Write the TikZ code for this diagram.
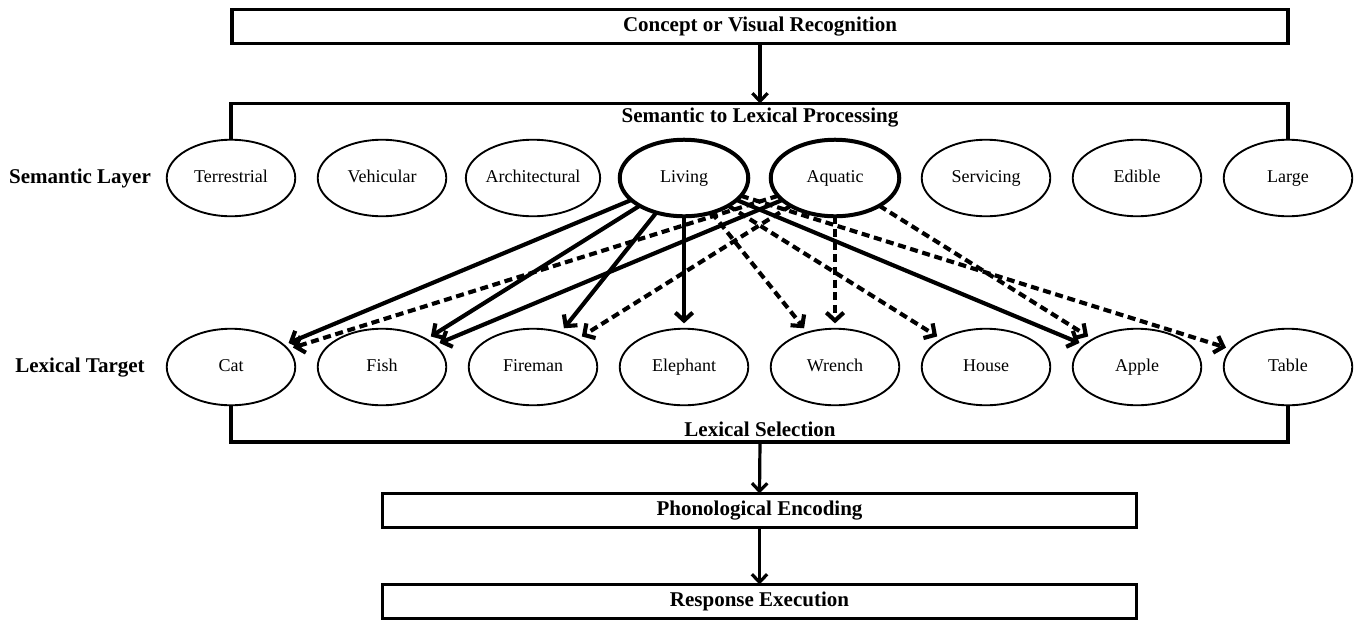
\documentclass[tikz,border=0pt]{standalone}
\usepackage{fontspec}
\setmainfont{Liberation Serif}
\usetikzlibrary{arrows.meta,shapes.geometric}
\begin{document}
\begin{tikzpicture}[x=0.75pt,y=-0.75pt,
  every node/.style={inner sep=0pt,outer sep=0pt},
  bigtext/.style={font=\fontsize{15.75pt}{18pt}\selectfont\bfseries,text height=11pt,text depth=3.5pt},
  proc/.style={draw,line width=2.5pt,minimum height=25.5pt,bigtext},
  concept/.style={draw,ellipse,line width=1.4pt,minimum width=96.4pt,minimum height=57.4pt,
    font=\fontsize{13.5pt}{16pt}\selectfont,text height=9pt,text depth=3pt},
  hot/.style={line width=3pt},
  boxline/.style={line width=2.5pt},
  flow/.style={line width=2.4pt,-{Straight Barb[length=6pt,width=11.5pt,line width=2.4pt]}},
  link/.style={line width=3.1pt,shorten >=4pt,-{Straight Barb[length=6pt,width=13pt,line width=3.1pt]}},
  weak/.style={link,dash pattern=on 6pt off 3.5pt}]
\useasboundingbox (0,0) rectangle (1356,622);
% process boxes
\node[proc,minimum width=792pt] (concept) at (760,26.5) {Concept or Visual Recognition};
\node[proc,minimum width=565.5pt] (phon) at (759.5,510.5) {Phonological Encoding};
\node[proc,minimum width=565.5pt] (resp) at (759.5,601.5) {Response Execution};
% side labels
\node[bigtext] (semlab) at (80,178) {Semantic Layer};
\node[bigtext] (lexlab) at (80,367) {Lexical Target};
% semantic layer
\node[concept] (terr) at (231,178) {Terrestrial};
\node[concept] (vehi) at (382,178) {Vehicular};
\node[concept] (arch) at (533,178) {Architectural};
\node[concept,hot] (living) at (684,178) {Living};
\node[concept,hot] (aqua) at (835,178) {Aquatic};
\node[concept] (serv) at (986,178) {Servicing};
\node[concept] (edib) at (1137,178) {Edible};
\node[concept] (large) at (1288,178) {Large};
% lexical targets
\node[concept] (cat) at (231,367) {Cat};
\node[concept] (fish) at (382,367) {Fish};
\node[concept] (fire) at (533,367) {Fireman};
\node[concept] (eleph) at (684,367) {Elephant};
\node[concept] (wrench) at (835,367) {Wrench};
\node[concept] (house) at (986,367) {House};
\node[concept] (apple) at (1137,367) {Apple};
\node[concept] (table) at (1288,367) {Table};
% frame of semantic to lexical processing
\coordinate (topline) at (760,103.5);
\coordinate (botline) at (760,442);
\draw[boxline] (terr.north) -- (terr.north |- topline) -- (large.north |- topline) -- (large.north);
\draw[boxline] (cat.south) -- (cat.south |- botline) -- (table.south |- botline) -- (table.south);
\node[bigtext] (semtitle) at (760,117) {Semantic to Lexical Processing};
\node[bigtext] (lexsel) at (760,431) {Lexical Selection};
% flow arrows
\draw[flow] (concept.south) -- (topline);
\draw[flow] (botline) -- (phon.north);
\draw[flow] (phon.south) -- (resp.north);
% semantic to lexical links
\draw[link] (living) -- (cat);
\draw[link] (living) -- (fish);
\draw[link] (living) -- (fire);
\draw[link] (living) -- (eleph);
\draw[link] (living) -- (apple);
\draw[link] (aqua) -- (fish);
\draw[weak] (aqua) -- (cat);
\draw[weak] (aqua) -- (fire);
\draw[weak] (living) -- (wrench);
\draw[weak] (aqua) -- (wrench);
\draw[weak] (living) -- (house);
\draw[weak] (aqua) -- (apple);
\draw[weak] (living) -- (table);
\end{tikzpicture}
\end{document}
